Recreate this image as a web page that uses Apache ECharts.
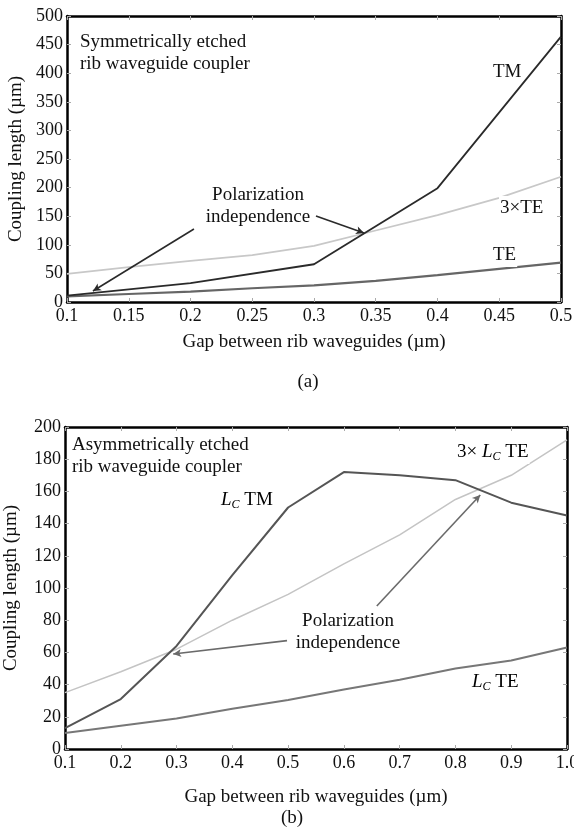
<!DOCTYPE html>
<html>
<head>
<meta charset="utf-8">
<script src="https://cdn.jsdelivr.net/npm/echarts@6/dist/echarts.min.js"></script>
<style>
html,body{margin:0;padding:0;background:#fff;}
#c{width:574px;height:827px;}
</style>
</head>
<body>
<div id="c"></div>
<script>
// ---- data (a) symmetric coupler ----
var xA_TM = [0.1, 0.2, 0.3, 0.4, 0.5];
var TM_A = [11, 33, 66, 199, 464];
var xA_TE = [0.1, 0.15, 0.2, 0.25, 0.3, 0.35, 0.4, 0.45, 0.5];
var TE3_A = [49, 61, 72, 82, 98, 125, 152, 182, 219];
var TE_A = [10, 14, 18, 24, 29, 37, 47, 58, 69];
var xTicksA = ['0.1','0.15','0.2','0.25','0.3','0.35','0.4','0.45','0.5'];
var yTicksA = ['0','50','100','150','200','250','300','350','400','450','500'];

// ---- data (b) asymmetric coupler ----
var xB = [0.1, 0.2, 0.3, 0.4, 0.5, 0.6, 0.7, 0.8, 0.9, 1.0];
var TM_B = [13, 31, 64, 108, 150, 172, 170, 167, 153, 145];
var TE3_B = [35, 48, 62, 80, 96, 115, 133, 155, 170, 192];
var TE_B = [10, 14.5, 19, 25, 30.5, 37, 43, 50, 55, 63];
var xTicksB = ['0.1','0.2','0.3','0.4','0.5','0.6','0.7','0.8','0.9','1.0'];
var yTicksB = ['0','20','40','60','80','100','120','140','160','180','200'];

// annotation arrows (data coordinates)
var arrowsA = [[[0.2028,127.6],[0.121,19.2]], [[0.3016,150.3],[0.3405,120.6]]];
var arrowsB = [[[0.498,67.3],[0.294,59]], [[0.659,88.8],[0.8445,157.8]]];

function zip(xs, ys){ return xs.map(function(x,i){ return [x, ys[i]]; }); }

var FONT = '"Liberation Serif","Times New Roman",serif';
var chart = echarts.init(document.getElementById('c'), null, {renderer:'canvas'});

function lblFmt(arr, min, step){
  return function(v){ var i = Math.round((v - min)/step); return arr[i] !== undefined ? arr[i] : ''; };
}
function mainX(gi, min, max, step, ticks, gap){
  return {
    gridIndex: gi, type:'value', min:min, max:max, interval:step, position:'bottom',
    name:'Gap between rib waveguides (\u00b5m)', nameLocation:'middle', nameGap:gap,
    nameTextStyle:{fontFamily:FONT, fontSize:19, color:'#111'},
    axisLine:{onZero:false, lineStyle:{color:'#000', width:2.5}},
    axisTick:{inside:true, length:4, lineStyle:{color:'#aaa'}},
    axisLabel:{fontFamily:FONT, fontSize:18, color:'#111', margin:5, formatter:lblFmt(ticks,min,step), showMaxLabel:true, hideOverlap:false},
    splitLine:{show:false}
  };
}
function mainY(gi, min, max, step, ticks, gap){
  return {
    gridIndex: gi, type:'value', min:min, max:max, interval:step, position:'left',
    name:'Coupling length (\u00b5m)', nameLocation:'middle', nameGap:gap,
    nameTextStyle:{fontFamily:FONT, fontSize:19, color:'#111'},
    axisLine:{onZero:false, lineStyle:{color:'#000', width:2.5}},
    axisTick:{inside:true, length:4, lineStyle:{color:'#aaa'}},
    axisLabel:{fontFamily:FONT, fontSize:18, color:'#111', margin:4, formatter:lblFmt(ticks,min,step)},
    splitLine:{show:false}
  };
}
function secX(gi, min, max, step){
  return {gridIndex:gi, type:'value', min:min, max:max, interval:step, position:'top',
    axisLine:{onZero:false, lineStyle:{color:'#000', width:2.5}},
    axisTick:{inside:true, length:4, lineStyle:{color:'#aaa'}},
    axisLabel:{show:false}, splitLine:{show:false}};
}
function secY(gi, min, max, step){
  return {gridIndex:gi, type:'value', min:min, max:max, interval:step, position:'right',
    axisLine:{onZero:false, lineStyle:{color:'#000', width:2.5}},
    axisTick:{inside:true, length:4, lineStyle:{color:'#aaa'}},
    axisLabel:{show:false}, splitLine:{show:false}};
}
function line(xi, yi, data, color, width, z){
  return {type:'line', xAxisIndex:xi, yAxisIndex:yi, data:data, showSymbol:false, symbol:'none',
    lineStyle:{color:color, width:width}, z:z||2, animation:false};
}
function arrowSeries(xi, yi, arrows, color){
  return {type:'line', xAxisIndex:xi, yAxisIndex:yi, data:[], animation:false,
    markLine:{silent:true, symbol:['none','arrow'], symbolSize:[6,8], animation:false,
      label:{show:false}, lineStyle:{color:color, width:1.6, type:'solid'},
      data: arrows.map(function(a){ return [{coord:a[0]},{coord:a[1]}]; })}};
}

function txt(x, y, text, opts){
  opts = opts || {};
  return {type:'text', x:x, y:y, z:100, style:Object.assign({
    text:text, font:'19px ' + FONT, fill:'#111', align:opts.align||'left', verticalAlign:'middle',
    backgroundColor: opts.bg===false ? 'transparent' : '#fff', padding:[1,1,1,1], lineHeight: opts.lh || 22
  }, opts.style||{})};
}
var rich = {
  i:{fontFamily:FONT, fontSize:19, fontStyle:'italic', color:'#111', lineHeight:22},
  s:{fontFamily:FONT, fontSize:12, fontStyle:'italic', color:'#111', verticalAlign:'bottom', lineHeight:12},
  n:{fontFamily:FONT, fontSize:19, color:'#111', lineHeight:22}
};

var option = {
  animation:false,
  backgroundColor:'#fff',
  grid:[
    {left:67, top:16, width:494, height:286, show:false, containLabel:false, outerBoundsMode:'none'},
    {left:65, top:427, width:502, height:322, show:false, containLabel:false, outerBoundsMode:'none'}
  ],
  xAxis:[
    mainX(0, 0.1, 0.5, 0.05, xTicksA, 31),
    secX(0, 0.1, 0.5, 0.05),
    mainX(1, 0.1, 1.0, 0.1, xTicksB, 39),
    secX(1, 0.1, 1.0, 0.1)
  ],
  yAxis:[
    mainY(0, 0, 500, 50, yTicksA, 41),
    secY(0, 0, 500, 50),
    mainY(1, 0, 200, 20, yTicksB, 44),
    secY(1, 0, 200, 20)
  ],
  series:[
    line(0, 0, zip(xA_TE, TE3_A), '#c8c8c8', 1.8, 2),
    line(0, 0, zip(xA_TE, TE_A), '#666', 2.2, 3),
    line(0, 0, zip(xA_TM, TM_A), '#2a2a2a', 1.8, 4),
    arrowSeries(0, 0, arrowsA, '#2a2a2a'),
    line(2, 2, zip(xB, TE3_B), '#c4c4c4', 1.5, 2),
    line(2, 2, zip(xB, TE_B), '#777', 2, 3),
    line(2, 2, zip(xB, TM_B), '#555', 2, 4),
    arrowSeries(2, 2, arrowsB, '#6a6a6a')
  ],
  graphic:[
    txt(79, 53, 'Symmetrically etched\nrib waveguide coupler'),
    txt(492, 72, 'TM', {bg:false}),
    txt(499, 208, '3\u00d7TE'),
    txt(492, 255, 'TE'),
    txt(258, 206, 'Polarization\nindependence', {align:'center'}),
    txt(308, 382, '(a)', {align:'center', bg:false}),

    txt(71, 456, 'Asymmetrically etched\nrib waveguide coupler'),
    {type:'text', x:220, y:500, z:100, style:{text:'{i|L}{s|C}{n| TM}', rich:rich, align:'left', verticalAlign:'middle', backgroundColor:'#fff', padding:[1,1,1,1]}},
    {type:'text', x:456, y:452, z:100, style:{text:'{n|3\u00d7 }{i|L}{s|C}{n| TE}', rich:rich, align:'left', verticalAlign:'middle', backgroundColor:'#fff', padding:[1,1,1,1]}},
    {type:'text', x:471, y:682, z:100, style:{text:'{i|L}{s|C}{n| TE}', rich:rich, align:'left', verticalAlign:'middle', backgroundColor:'#fff', padding:[1,1,1,1]}},
    txt(348, 632, 'Polarization\nindependence', {align:'center'}),
    txt(292, 818, '(b)', {align:'center', bg:false})
  ]
};
chart.setOption(option);
</script>
</body>
</html>
